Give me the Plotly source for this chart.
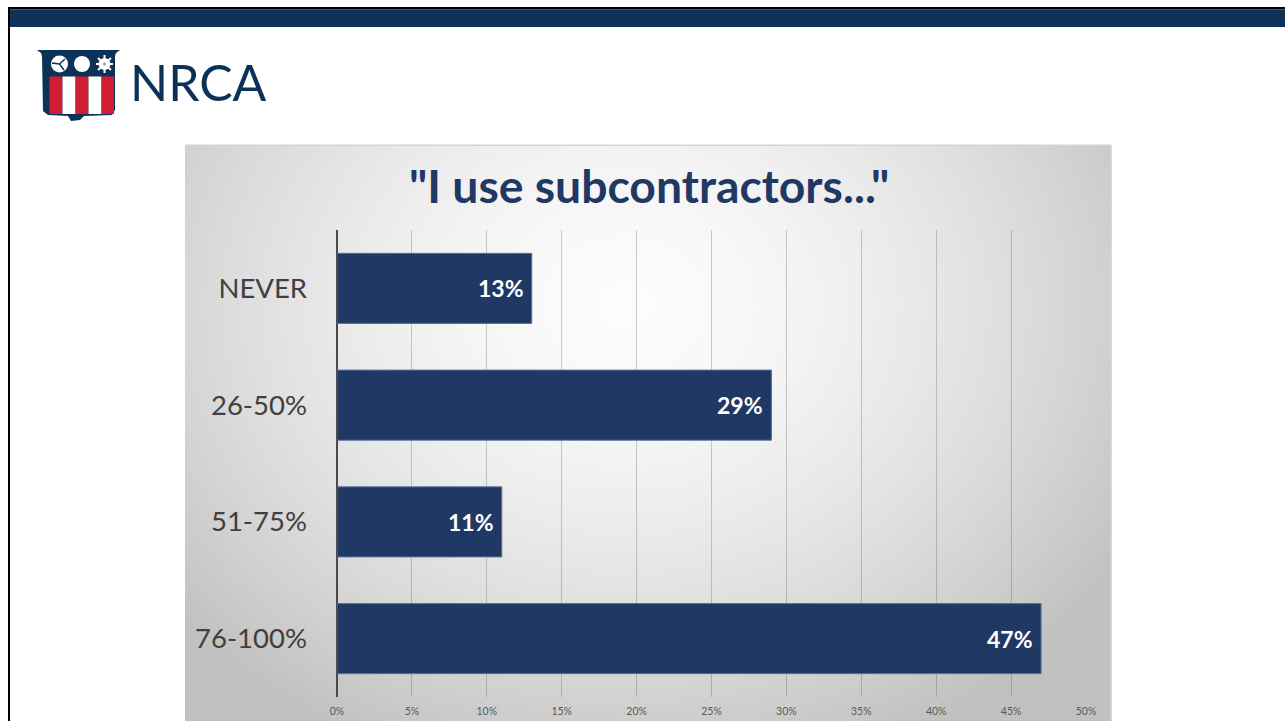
import base64, struct, zlib, math
import plotly.graph_objects as go

# ---- data ----
categories = ["NEVER", "26-50%", "51-75%", "76-100%"]
share_values = [13, 29, 11, 47]
x_ticks = [0, 5, 10, 15, 20, 25, 30, 35, 40, 45, 50]
x_tick_labels = ["0%", "5%", "10%", "15%", "20%", "25%", "30%", "35%", "40%", "45%", "50%"]
bar_labels = ["13%", "29%", "11%", "47%"]
chart_title = '"I use subcontractors..."'
logo_text = "NRCA"

W, H = 1285, 721
NAVY = "#0c3357"
BAR = "#1f3864"
RED = "#d01f32"


def fx(p):
    return p / W


def fy(p):
    return 1 - p / H


def make_gradient(w, h):
    """Soft grey vignette behind the chart panel, as a PNG data URI."""
    cx, cy = 440.0, 160.0
    rows = bytearray()
    for j in range(h):
        rows.append(0)
        for i in range(w):
            d = math.hypot((i - cx) / 600.0, (j - cy) / 500.0)
            v = 252 - 62 * d ** 1.6
            rows.append(int(round(max(193, v))))
    def chunk(t, b):
        return struct.pack(">I", len(b)) + t + b + struct.pack(">I", zlib.crc32(t + b) & 0xffffffff)
    png = (b"\x89PNG\r\n\x1a\n" + chunk(b"IHDR", struct.pack(">IIBBBBB", w, h, 8, 0, 0, 0, 0))
           + chunk(b"IDAT", zlib.compress(bytes(rows), 9)) + chunk(b"IEND", b""))
    return "data:image/png;base64," + base64.b64encode(png).decode()


def rect(x0, y0, x1, y1, color):
    return dict(type="rect", xref="paper", yref="paper", x0=fx(x0), x1=fx(x1), y0=fy(y0), y1=fy(y1),
                fillcolor=color, line_width=0, layer="above")


def circle(cx, cy, r, color):
    return dict(type="circle", xref="paper", yref="paper", x0=fx(cx - r), x1=fx(cx + r),
                y0=fy(cy - r), y1=fy(cy + r), fillcolor=color, line_width=0, layer="above")


def poly(points, color, close=True, width=0):
    d = "M" + " L".join(f"{fx(x):.5f},{fy(y):.5f}" for x, y in points) + (" Z" if close else "")
    s = dict(type="path", xref="paper", yref="paper", path=d, layer="above")
    if close:
        s.update(fillcolor=color, line_width=0)
    else:
        s.update(line=dict(color=color, width=width))
    return s


shapes = [
    rect(8, 7, 1285, 9.5, "#000000"),
    rect(8, 7, 10, 721, "#000000"),
    rect(10, 9.5, 1285, 27, NAVY),
    # panel edges
    rect(185, 144.5, 1111, 146, "#d4d4d4"),
    rect(1110.5, 145, 1112, 721, "#d8d8d8"),
    # logo shield
    poly([(37, 50), (120, 50), (116, 53), (115, 56), (115, 110), (112, 115), (84, 116), (80, 120), (71, 121),
          (68, 116), (48, 115), (43, 111), (42, 56), (41, 53)], NAVY),
    rect(49.5, 76.5, 62.5, 114, RED),
    rect(62.5, 76.5, 75.5, 114, "#ffffff"),
    rect(75.5, 76.5, 88.5, 114, RED),
    rect(88.5, 76.5, 101.5, 114, "#ffffff"),
    rect(101.5, 76.5, 114, 114, RED),
    circle(59.5, 64, 8.5, "#ffffff"),
    circle(82, 64, 8, "#ffffff"),
    circle(104.5, 64, 6, "#ffffff"),
]
# triskele strokes and snowflake spikes on the logo
for a, b in [((59.5, 64), (65, 59)), ((59.5, 64), (64, 70)), ((59.5, 64), (52, 63))]:
    shapes.append(poly([a, b], NAVY, close=False, width=1.5))
for a, b in [((96, 64), (113, 64)), ((104.5, 55), (104.5, 73)), ((98, 58), (111, 70)), ((111, 58), (98, 70))]:
    shapes.append(poly([a, b], "#ffffff", close=False, width=2))
shapes.append(circle(104.5, 64, 1.5, "#8fa0b3"))

fig = go.Figure(go.Bar(
    y=categories, x=share_values, orientation="h", width=0.6,
    marker=dict(color=BAR, line=dict(color="#5b6f96", width=1)),
    hoverinfo="skip",
))

annotations = [
    dict(text=chart_title, xref="paper", yref="paper", x=fx(648.5), y=fy(185), xanchor="center", yanchor="middle",
         showarrow=False, font=dict(family="Lato", size=46.3, color=BAR, weight="bold")),
    dict(text=logo_text, xref="paper", yref="paper", x=fx(127.5), y=fy(82), xanchor="left", yanchor="middle",
         showarrow=False, font=dict(family="Lato", size=50, color=NAVY)),
]
for cat, val, lab in zip(categories, share_values, bar_labels):
    annotations.append(dict(text=lab, xref="x", yref="y", x=val, y=cat, xanchor="right", yanchor="middle",
                            xshift=-6, showarrow=False,
                            font=dict(family="Lato", size=23, color="#ffffff", weight="bold")))

fig.update_layout(
    width=W, height=H, autosize=False, showlegend=False,
    margin=dict(l=0, r=0, t=0, b=0),
    paper_bgcolor="#ffffff", plot_bgcolor="rgba(0,0,0,0)",
    shapes=shapes,
    annotations=annotations,
    images=[dict(source=make_gradient(926, 578), xref="paper", yref="paper",
                 x=fx(185), y=fy(145), sizex=926 / W, sizey=578 / H,
                 xanchor="left", yanchor="top", sizing="stretch", layer="below")],
    xaxis=dict(domain=[fx(337), fx(1086)], range=[0, 50], tickmode="array", tickvals=x_ticks, ticktext=x_tick_labels,
               automargin=False,
               showgrid=True, gridcolor="rgba(60,60,60,0.25)", gridwidth=1,
               zeroline=True, zerolinecolor="#4a4a4a", zerolinewidth=1.5, showline=False,
               ticks="", tickfont=dict(family="Lato", size=10.5, color="#595959"), ticklabelstandoff=6),
    yaxis=dict(domain=[fy(697), fy(230)], autorange="reversed", type="category", automargin=False,
               categoryorder="array", categoryarray=categories,
               showline=False, showgrid=False, zeroline=False, ticks="",
               tickfont=dict(family="Lato", size=27.5, color="#404040"), ticklabelstandoff=29),
)

fig.write_html("out.html", config=dict(displayModeBar=False),
               post_script="document.body.style.margin='0';document.body.style.overflow='hidden';")
